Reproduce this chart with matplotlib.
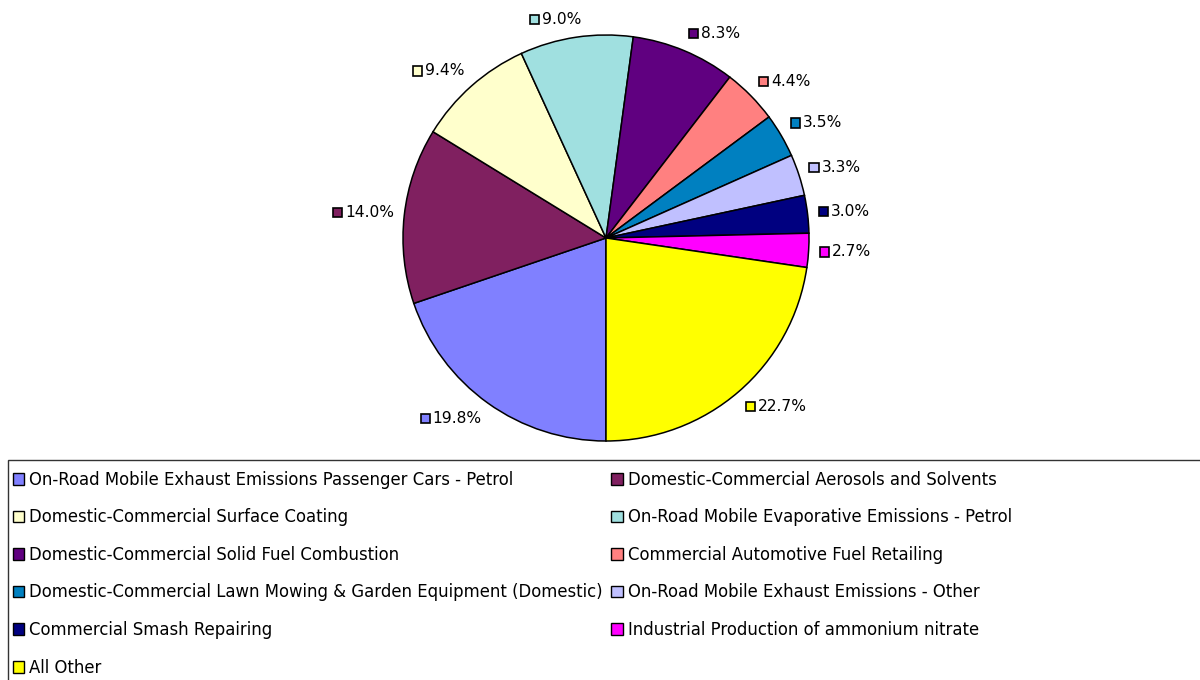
import numpy as np
import matplotlib
matplotlib.use("Agg")
import matplotlib.pyplot as plt
from matplotlib.patches import Rectangle, Patch
from matplotlib.offsetbox import DrawingArea, TextArea, HPacker, AnnotationBbox

categories = [
    "On-Road Mobile Exhaust Emissions Passenger Cars - Petrol",
    "Domestic-Commercial Aerosols and Solvents",
    "Domestic-Commercial Surface Coating",
    "On-Road Mobile Evaporative Emissions - Petrol",
    "Domestic-Commercial Solid Fuel Combustion",
    "Commercial Automotive Fuel Retailing",
    "Domestic-Commercial Lawn Mowing & Garden Equipment (Domestic)",
    "On-Road Mobile Exhaust Emissions - Other",
    "Commercial Smash Repairing",
    "Industrial Production of ammonium nitrate",
    "All Other",
]
values = [19.8, 14.0, 9.4, 9.0, 8.3, 4.4, 3.5, 3.3, 3.0, 2.7, 22.7]
colors = ["#8080FF", "#802060", "#FFFFCC", "#A0E0E0", "#600080", "#FF8080",
          "#0080C0", "#C0C0FF", "#000080", "#FF00FF", "#FFFF00"]

plt.rcParams['font.family'] = ['DejaVu Sans']
FS_LAB = 11.2
FS_LEG = 11.9

W, H = 1200, 680
fig = plt.figure(figsize=(12, 6.8), dpi=100)
cx, cy, R = 606, H - 238, 203
ax = fig.add_axes([(cx - R) / W, (cy - R) / H, 2 * R / W, 2 * R / H])
wedges, _ = ax.pie(values, colors=colors, startangle=-90, counterclock=False,
                   radius=1.0, wedgeprops=dict(edgecolor='black', linewidth=1.1))
ax.set_xlim(-1, 1)
ax.set_ylim(-1, 1)
ax.set_aspect('equal')
ax.axis('off')

for w, v, c in zip(wedges, values, colors):
    ang = np.deg2rad((w.theta1 + w.theta2) / 2)
    r = 1.05
    x, y = r * np.cos(ang), r * np.sin(ang)
    da = DrawingArea(7.8, 7.8, 0, 0)
    da.add_artist(Rectangle((0.6, 0.6), 6.6, 6.6, facecolor=c, edgecolor='black', linewidth=1.2))
    ta = TextArea(f"{v:.1f}%", textprops=dict(fontsize=FS_LAB, color='black'))
    pack = HPacker(children=[da, ta], align='center', pad=0, sep=1.5)
    fx = 0.5 - 0.5 * np.clip(np.cos(ang) / 0.2, -1, 1)
    fy = 0.5 - 0.5 * np.clip(np.sin(ang) / 0.5, -1, 1)
    ab = AnnotationBbox(pack, (x, y), xycoords='data', box_alignment=(fx, fy),
                        frameon=False, pad=0, annotation_clip=False)
    ax.add_artist(ab)

# legend frame (extends beyond figure right/bottom)
fig.patches.append(Rectangle((8 / W, -0.05), 1.2, (H - 460) / H + 0.05,
                             transform=fig.transFigure, facecolor='white',
                             edgecolor='#333333', linewidth=1.0, zorder=0))

order = [0, 2, 4, 6, 8, 10, 1, 3, 5, 7, 9]
handles = [Patch(facecolor=colors[i], edgecolor='black', linewidth=1.0) for i in order]
labels = [categories[i] for i in order]
leg = fig.legend(handles, labels, loc='upper left', bbox_to_anchor=(6 / W, (H - 464) / H),
                 ncol=2, frameon=False, fontsize=FS_LEG, handlelength=0.7, handleheight=0.7,
                 handletextpad=0.3, labelspacing=1.185, columnspacing=0.5,
                 borderaxespad=0, borderpad=0.4)

fig.savefig("out.png", dpi=100)
